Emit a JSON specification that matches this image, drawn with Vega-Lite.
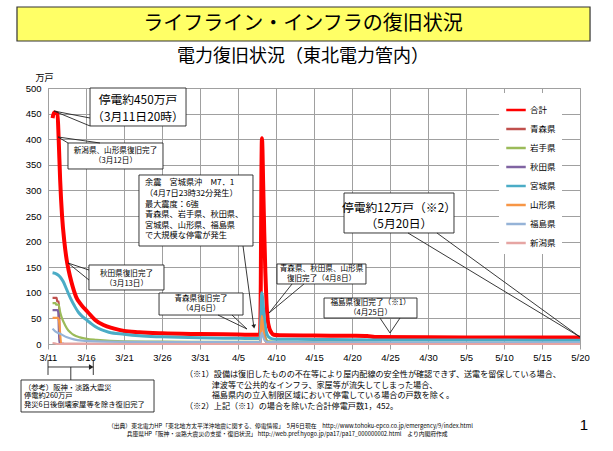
{
  "$schema": "https://vega.github.io/schema/vega-lite/v6.json",
  "autosize": "none",
  "width": 532,
  "height": 256,
  "padding": {"left": 48, "top": 88, "right": 33, "bottom": 107},
  "background": "white",
  "config": {
    "view": {"stroke": "#a0a0a0"},
    "font": "Noto Sans CJK JP",
    "axis": {"gridColor": "#a0a0a0", "domainColor": "#a0a0a0", "tickColor": "#a0a0a0", "labelColor": "black", "labelFont": "Liberation Sans", "labelFontSize": 9.5}
  },
  "datasets": {
    "lines": [
      {"s":"合計","x":0.6,"y":441},{"s":"合計","x":0.8,"y":452},{"s":"合計","x":1.25,"y":450},{"s":"合計","x":1.4,"y":402},{"s":"合計","x":1.6,"y":320},{"s":"合計","x":1.85,"y":250},{"s":"合計","x":2.15,"y":200},{"s":"合計","x":2.46,"y":164},{"s":"合計","x":2.7,"y":145},{"s":"合計","x":3.1,"y":120},{"s":"合計","x":3.7,"y":92},{"s":"合計","x":4.4,"y":76},{"s":"合計","x":5.2,"y":63},{"s":"合計","x":6.2,"y":47},{"s":"合計","x":7.3,"y":37},{"s":"合計","x":8.6,"y":30.5},{"s":"合計","x":10,"y":25.5},{"s":"合計","x":12,"y":23},{"s":"合計","x":15,"y":21},{"s":"合計","x":20,"y":19.5},{"s":"合計","x":25,"y":18.5},{"s":"合計","x":27.9,"y":18},{"s":"合計","x":28.0,"y":120},{"s":"合計","x":28.08,"y":330},{"s":"合計","x":28.15,"y":402},{"s":"合計","x":28.22,"y":380},{"s":"合計","x":28.3,"y":320},{"s":"合計","x":28.45,"y":220},{"s":"合計","x":28.6,"y":140},{"s":"合計","x":28.75,"y":80},{"s":"合計","x":28.9,"y":48},{"s":"合計","x":29.1,"y":32},{"s":"合計","x":29.4,"y":22},{"s":"合計","x":29.7,"y":18},{"s":"合計","x":30.5,"y":17},{"s":"合計","x":35,"y":16.5},{"s":"合計","x":40,"y":16},{"s":"合計","x":42,"y":15.5},{"s":"合計","x":43,"y":13.5},{"s":"合計","x":50,"y":13},{"s":"合計","x":60,"y":12.8},{"s":"合計","x":70,"y":12.5},
      {"s":"青森県","x":0.6,"y":90},{"s":"青森県","x":1.15,"y":90},{"s":"青森県","x":1.2,"y":83},{"s":"青森県","x":1.45,"y":83},{"s":"青森県","x":1.55,"y":1},{"s":"青森県","x":2,"y":0.5},{"s":"青森県","x":25.9,"y":0.5},{"s":"青森県","x":26,"y":0},{"s":"青森県","x":27.95,"y":0},{"s":"青森県","x":28.05,"y":60},{"s":"青森県","x":28.13,"y":85},{"s":"青森県","x":28.25,"y":65},{"s":"青森県","x":28.4,"y":35},{"s":"青森県","x":28.6,"y":12},{"s":"青森県","x":28.8,"y":3},{"s":"青森県","x":29,"y":0},{"s":"青森県","x":70,"y":0},
      {"s":"岩手県","x":0.6,"y":80},{"s":"岩手県","x":1.0,"y":80},{"s":"岩手県","x":1.05,"y":77},{"s":"岩手県","x":1.4,"y":77},{"s":"岩手県","x":1.6,"y":62},{"s":"岩手県","x":1.85,"y":50},{"s":"岩手県","x":2.05,"y":43},{"s":"岩手県","x":2.5,"y":30},{"s":"岩手県","x":3.0,"y":22},{"s":"岩手県","x":3.4,"y":17.5},{"s":"岩手県","x":4.2,"y":13},{"s":"岩手県","x":5.1,"y":10},{"s":"岩手県","x":6.4,"y":8},{"s":"岩手県","x":8.2,"y":6},{"s":"岩手県","x":10,"y":5},{"s":"岩手県","x":15,"y":4.5},{"s":"岩手県","x":20,"y":4},{"s":"岩手県","x":27.9,"y":4},{"s":"岩手県","x":28.05,"y":50},{"s":"岩手県","x":28.13,"y":75},{"s":"岩手県","x":28.25,"y":58},{"s":"岩手県","x":28.4,"y":32},{"s":"岩手県","x":28.6,"y":14},{"s":"岩手県","x":28.8,"y":7},{"s":"岩手県","x":29,"y":5},{"s":"岩手県","x":30,"y":4},{"s":"岩手県","x":40,"y":3},{"s":"岩手県","x":45,"y":2.2},{"s":"岩手県","x":70,"y":2},
      {"s":"秋田県","x":0.6,"y":66},{"s":"秋田県","x":1.25,"y":66},{"s":"秋田県","x":1.35,"y":62},{"s":"秋田県","x":1.5,"y":0.5},{"s":"秋田県","x":2,"y":0.3},{"s":"秋田県","x":2.1,"y":0},{"s":"秋田県","x":27.95,"y":0},{"s":"秋田県","x":28.05,"y":45},{"s":"秋田県","x":28.13,"y":65},{"s":"秋田県","x":28.25,"y":48},{"s":"秋田県","x":28.4,"y":25},{"s":"秋田県","x":28.6,"y":8},{"s":"秋田県","x":28.8,"y":2},{"s":"秋田県","x":29,"y":0},{"s":"秋田県","x":70,"y":0},
      {"s":"宮城県","x":0.6,"y":139},{"s":"宮城県","x":1.2,"y":136},{"s":"宮城県","x":1.6,"y":131},{"s":"宮城県","x":2.0,"y":122},{"s":"宮城県","x":2.5,"y":105},{"s":"宮城県","x":3.0,"y":88},{"s":"宮城県","x":3.5,"y":74},{"s":"宮城県","x":4.0,"y":62},{"s":"宮城県","x":4.5,"y":54},{"s":"宮城県","x":5.0,"y":48},{"s":"宮城県","x":5.5,"y":42},{"s":"宮城県","x":6.2,"y":34},{"s":"宮城県","x":7.0,"y":28},{"s":"宮城県","x":8.0,"y":23},{"s":"宮城県","x":10,"y":19},{"s":"宮城県","x":12,"y":16},{"s":"宮城県","x":15,"y":14},{"s":"宮城県","x":20,"y":12},{"s":"宮城県","x":25,"y":11},{"s":"宮城県","x":27.9,"y":10.5},{"s":"宮城県","x":28.02,"y":60},{"s":"宮城県","x":28.12,"y":100},{"s":"宮城県","x":28.2,"y":95},{"s":"宮城県","x":28.35,"y":70},{"s":"宮城県","x":28.5,"y":45},{"s":"宮城県","x":28.7,"y":25},{"s":"宮城県","x":29.0,"y":14},{"s":"宮城県","x":29.5,"y":10},{"s":"宮城県","x":30,"y":9.5},{"s":"宮城県","x":35,"y":9},{"s":"宮城県","x":40,"y":8.5},{"s":"宮城県","x":43,"y":8},{"s":"宮城県","x":50,"y":7.8},{"s":"宮城県","x":60,"y":7.6},{"s":"宮城県","x":70,"y":7.5},
      {"s":"山形県","x":0.6,"y":51},{"s":"山形県","x":1.3,"y":51},{"s":"山形県","x":1.45,"y":45},{"s":"山形県","x":1.75,"y":0},{"s":"山形県","x":27.95,"y":0},{"s":"山形県","x":28.05,"y":35},{"s":"山形県","x":28.13,"y":55},{"s":"山形県","x":28.25,"y":42},{"s":"山形県","x":28.4,"y":22},{"s":"山形県","x":28.6,"y":7},{"s":"山形県","x":28.8,"y":1},{"s":"山形県","x":29,"y":0},{"s":"山形県","x":70,"y":0},
      {"s":"福島県","x":0.6,"y":30},{"s":"福島県","x":1.0,"y":24},{"s":"福島県","x":1.6,"y":20},{"s":"福島県","x":2.5,"y":13},{"s":"福島県","x":3.4,"y":9},{"s":"福島県","x":4.5,"y":6.5},{"s":"福島県","x":5.6,"y":5.5},{"s":"福島県","x":7.8,"y":4.5},{"s":"福島県","x":12,"y":4},{"s":"福島県","x":20,"y":3.5},{"s":"福島県","x":27.9,"y":3.5},{"s":"福島県","x":28.05,"y":15},{"s":"福島県","x":28.13,"y":22},{"s":"福島県","x":28.25,"y":17},{"s":"福島県","x":28.4,"y":10},{"s":"福島県","x":28.6,"y":6},{"s":"福島県","x":28.8,"y":4},{"s":"福島県","x":29.5,"y":3.5},{"s":"福島県","x":40,"y":3},{"s":"福島県","x":45,"y":2.5},{"s":"福島県","x":70,"y":2.5},
      {"s":"新潟県","x":0.6,"y":2},{"s":"新潟県","x":1.0,"y":1},{"s":"新潟県","x":1.2,"y":0},{"s":"新潟県","x":70,"y":0}
    ],
    "boxes": [
      {"k":"header","x":-4.08,"x2":71.32,"y":591.8,"y2":658.2},
      {"k":"callout","x":5.53,"x2":18.16,"y":425.8,"y2":500},
      {"k":"callout","x":2.63,"x2":15.13,"y":341.8,"y2":392.6},
      {"k":"callout","x":11.97,"x2":26.97,"y":191.4,"y2":330.1},
      {"k":"callout","x":5.39,"x2":15.26,"y":105.5,"y2":154.3},
      {"k":"callout","x":14.61,"x2":25.66,"y":56.6,"y2":99.6},
      {"k":"callout","x":30.13,"x2":41.84,"y":117.2,"y2":156.3},
      {"k":"callout","x":36.32,"x2":48.55,"y":50.8,"y2":89.8},
      {"k":"callout","x":38.95,"x2":53.42,"y":216.8,"y2":294.9},
      {"k":"callout","x":-3.55,"x2":13.95,"y":-132.8,"y2":-70.3}
    ],
    "ptrs": [
      {"x":0.79,"y":455,"x2":5.53,"y2":441.4},{"x":0.79,"y":455,"x2":5.53,"y2":425.8},
      {"x":1.32,"y":404.3,"x2":2.63,"y2":392.6},{"x":1.32,"y":404.3,"x2":6.84,"y2":392.6},
      {"x":2.63,"y":158.2,"x2":5.39,"y2":144.5},{"x":2.63,"y":158.2,"x2":5.39,"y2":125},
      {"x":26.18,"y":29.3,"x2":22.37,"y2":56.6},{"x":26.18,"y":29.3,"x2":24.21,"y2":56.6},
      {"x":29.08,"y":60.5,"x2":32.11,"y2":117.2},{"x":29.08,"y":60.5,"x2":33.68,"y2":117.2},
      {"x":45.0,"y":21.5,"x2":43.68,"y2":50.8},{"x":45.0,"y":21.5,"x2":46.32,"y2":50.8},
      {"x":70,"y":13.7,"x2":47.37,"y2":216.8},{"x":70,"y":13.7,"x2":51.18,"y2":216.8},
      {"x":25.66,"y":191.4,"x2":27.05,"y2":37},
      {"x":0,"y":-44.9,"x2":5.6,"y2":-44.9},
      {"x":0,"y":-31,"x2":0,"y2":-60.5},
      {"x":5.96,"y":-31,"x2":5.96,"y2":-60.5},
      {"x":3,"y":-44.9,"x2":3,"y2":-70.3}
    ],
    "heads": [
      {"k":"down","x":27.1,"y":34},
      {"k":"right","x":5.7,"y":-44.9}
    ],
    "txt": [
      {"k":"header","x":33.55,"y":625,"t":"ライフライン・インフラの復旧状況"},
      {"k":"sub","x":33.55,"y":560.5,"t":"電力復旧状況（東北電力管内）"},
      {"k":"big","x":11.84,"y":476.6,"t":"停電約450万戸"},
      {"k":"big","x":11.84,"y":444.0,"t":"（3月11日20時）"},
      {"k":"big","x":46.18,"y":266.6,"t":"停電約12万戸（※2）"},
      {"k":"big","x":46.18,"y":235.3,"t":"（5月20日）"},
      {"k":"small","x":8.88,"y":377,"t":"新潟県、山形県復旧完了"},
      {"k":"small","x":8.88,"y":357.4,"t":"（3月12日）"},
      {"k":"small","x":10.33,"y":136.7,"t":"秋田県復旧完了"},
      {"k":"small","x":10.33,"y":117.2,"t":"（3月13日）"},
      {"k":"small","x":20.13,"y":87.9,"t":"青森県復旧完了"},
      {"k":"small","x":20.13,"y":68.4,"t":"（4月6日）"},
      {"k":"small","x":35.99,"y":146.5,"t":"青森県、秋田県、山形県"},
      {"k":"small","x":35.99,"y":127,"t":"復旧完了（4月8日）"},
      {"k":"small","x":42.43,"y":80.1,"t":"福島県復旧完了（※1）"},
      {"k":"small","x":42.43,"y":60.5,"t":"（4月25日）"},
      {"k":"left","x":12.76,"y":313.5,"t":"余震　宮城県沖　M7．1"},
      {"k":"left","x":12.76,"y":293,"t":"（4月7日23時32分発生）"},
      {"k":"left","x":12.76,"y":271.5,"t":"最大震度：6強"},
      {"k":"left","x":12.76,"y":251,"t":"青森県、岩手県、秋田県、"},
      {"k":"left","x":12.76,"y":230.5,"t":"宮城県、山形県、福島県"},
      {"k":"left","x":12.76,"y":210,"t":"で大規模な停電が発生"},
      {"k":"note","x":18.03,"y":-61.0,"t":"（※1）設備は復旧したものの不在等により屋内配線の安全性が確認できず、送電を留保している場合、"},
      {"k":"note","x":21.54,"y":-81.5,"t":"津波等で公共的なインフラ、家屋等が流失してしまった場合、"},
      {"k":"note","x":21.54,"y":-102.0,"t":"福島県内の立入制限区域において停電している場合の戸数を除く。"},
      {"k":"note","x":18.03,"y":-122.5,"t":"（※2）上記（※1）の場合を除いた合計停電戸数1，452。"},
      {"k":"ref","x":-3.16,"y":-85,"t":"（参考）阪神・淡路大震災"},
      {"k":"ref","x":-3.16,"y":-101.6,"t":"停電約260万戸"},
      {"k":"ref","x":-3.16,"y":-118.2,"t":"発災6日後倒壊家屋等を除き復旧完了"},
      {"k":"src","x":7.89,"y":-159.6,"t":"（出典）東北電力HP「東北地方太平洋沖地震に関する、停電情報」　5月6日現在　http://www.tohoku-epco.co.jp/emergency/9/index.html"},
      {"k":"src","x":10.36,"y":-175.8,"t":"兵庫県HP「阪神・淡路大震災の支援・復旧状況」 http://web.pref.hyogo.jp/pa17/pa17_000000002.html　より内閣府作成"},
      {"k":"page","x":70.53,"y":-158.2,"t":"1"}
    ]
  },
  "encoding": {
    "x": {"field": "x", "type": "quantitative", "scale": {"domain": [0, 70], "nice": false, "zero": false},
      "axis": {"title": null, "values": [0,5,10,15,20,25,30,35,40,45,50,55,60,65,70], "grid": true, "tickSize": 5, "labelPadding": 3,
        "labelExpr": "timeFormat(datetime(2011, 2, 11 + datum.value), '%-m/%-d')", "labelFlush": false}},
    "y": {"field": "y", "type": "quantitative", "scale": {"domain": [0, 500], "nice": false},
      "axis": {"title": "万戸", "titleAngle": 0, "titleAlign": "center", "titleBaseline": "alphabetic", "titleX": -4, "titleY": -8,
        "titleFont": "Noto Sans CJK JP", "titleFontSize": 9, "titleFontWeight": "normal",
        "values": [0,50,100,150,200,250,300,350,400,450,500], "grid": true, "ticks": false, "labelPadding": 7}}
  },
  "layer": [
    {"data": {"name": "boxes"}, "transform": [{"filter": "datum.k === 'header'"}],
     "mark": {"type": "rect", "fill": "#FFFF66", "stroke": "#333333", "strokeWidth": 1.2},
     "encoding": {"x2": {"field": "x2"}, "y2": {"field": "y2"}}},
    {"data": {"name": "lines"}, "transform": [{"filter": "datum.s === '合計'"}],
     "mark": {"type": "line", "strokeWidth": 4, "interpolate": "monotone"},
     "encoding": {"color": {"field": "s", "type": "nominal",
        "scale": {"domain": ["合計","青森県","岩手県","秋田県","宮城県","山形県","福島県","新潟県"], "range": ["#FF0000","#C0504D","#9BBB59","#8064A2","#4BACC6","#F79646","#95B3D7","#E6A5A3"]},
        "legend": {"title": null, "orient": "none", "legendX": 451, "legendY": 5, "fillColor": "white", "padding": 6, "symbolType": "stroke", "symbolSize": 380, "symbolStrokeWidth": 2.5, "labelFontSize": 8.5, "labelFont": "Noto Sans CJK JP", "rowPadding": 3, "labelOffset": 3}}}},
    {"data": {"name": "lines"}, "transform": [{"filter": "datum.s !== '合計'"}],
     "mark": {"type": "line", "interpolate": "monotone"},
     "encoding": {"color": {"field": "s", "type": "nominal",
        "scale": {"domain": ["合計","青森県","岩手県","秋田県","宮城県","山形県","福島県","新潟県"], "range": ["#FF0000","#C0504D","#9BBB59","#8064A2","#4BACC6","#F79646","#95B3D7","#E6A5A3"]},
        "legend": {"title": null, "orient": "none", "legendX": 451, "legendY": 5, "fillColor": "white", "padding": 6, "symbolType": "stroke", "symbolSize": 380, "symbolStrokeWidth": 2.5, "labelFontSize": 8.5, "labelFont": "Noto Sans CJK JP", "rowPadding": 3, "labelOffset": 3}},
       "strokeWidth": {"condition": {"test": "datum.s === '宮城県'", "value": 3}, "value": 2.2}}},
    {"data": {"name": "boxes"}, "transform": [{"filter": "datum.k === 'callout'"}],
     "mark": {"type": "rect", "fill": "white", "stroke": "#222222", "strokeWidth": 0.9},
     "encoding": {"x2": {"field": "x2"}, "y2": {"field": "y2"}}},
    {"data": {"name": "ptrs"},
     "mark": {"type": "rule", "stroke": "#222222", "strokeWidth": 0.9},
     "encoding": {"x2": {"field": "x2"}, "y2": {"field": "y2"}}},
    {"data": {"name": "heads"}, "transform": [{"filter": "datum.k === 'down'"}],
     "mark": {"type": "point", "shape": "triangle-down", "filled": true, "color": "#222222", "size": 22, "angle": -8, "opacity": 1},
     "encoding": {}},
    {"data": {"name": "heads"}, "transform": [{"filter": "datum.k === 'right'"}],
     "mark": {"type": "point", "shape": "triangle-right", "filled": true, "color": "#222222", "size": 30, "opacity": 1},
     "encoding": {}},
    {"data": {"name": "txt"}, "transform": [{"filter": "datum.k === 'header'"}],
     "mark": {"type": "text", "fontSize": 20, "font": "Noto Sans CJK JP", "align": "center", "baseline": "middle", "color": "black"},
     "encoding": {"text": {"field": "t"}}},
    {"data": {"name": "txt"}, "transform": [{"filter": "datum.k === 'sub'"}],
     "mark": {"type": "text", "fontSize": 18, "font": "Noto Sans CJK JP", "align": "center", "baseline": "middle", "color": "black"},
     "encoding": {"text": {"field": "t"}}},
    {"data": {"name": "txt"}, "transform": [{"filter": "datum.k === 'big'"}],
     "mark": {"type": "text", "fontSize": 11.8, "font": "Noto Sans CJK JP", "align": "center", "baseline": "middle", "color": "black"},
     "encoding": {"text": {"field": "t"}}},
    {"data": {"name": "txt"}, "transform": [{"filter": "datum.k === 'small'"}],
     "mark": {"type": "text", "fontSize": 7.6, "font": "Noto Sans CJK JP", "align": "center", "baseline": "middle", "color": "black"},
     "encoding": {"text": {"field": "t"}}},
    {"data": {"name": "txt"}, "transform": [{"filter": "datum.k === 'left'"}],
     "mark": {"type": "text", "fontSize": 8.2, "font": "Noto Sans CJK JP", "align": "left", "baseline": "middle", "color": "black"},
     "encoding": {"text": {"field": "t"}}},
    {"data": {"name": "txt"}, "transform": [{"filter": "datum.k === 'note'"}],
     "mark": {"type": "text", "fontSize": 8.1, "font": "Noto Sans CJK JP", "align": "left", "baseline": "middle", "color": "black"},
     "encoding": {"text": {"field": "t"}}},
    {"data": {"name": "txt"}, "transform": [{"filter": "datum.k === 'ref'"}],
     "mark": {"type": "text", "fontSize": 7.3, "font": "Noto Sans CJK JP", "align": "left", "baseline": "middle", "color": "black"},
     "encoding": {"text": {"field": "t"}}},
    {"data": {"name": "txt"}, "transform": [{"filter": "datum.k === 'src'"}],
     "mark": {"type": "text", "fontSize": 5.8, "font": "Noto Sans CJK JP", "align": "left", "baseline": "middle", "color": "black"},
     "encoding": {"text": {"field": "t"}}},
    {"data": {"name": "txt"}, "transform": [{"filter": "datum.k === 'page'"}],
     "mark": {"type": "text", "fontSize": 15, "font": "Liberation Sans", "align": "center", "baseline": "middle", "color": "black"},
     "encoding": {"text": {"field": "t"}}}
  ]
}
